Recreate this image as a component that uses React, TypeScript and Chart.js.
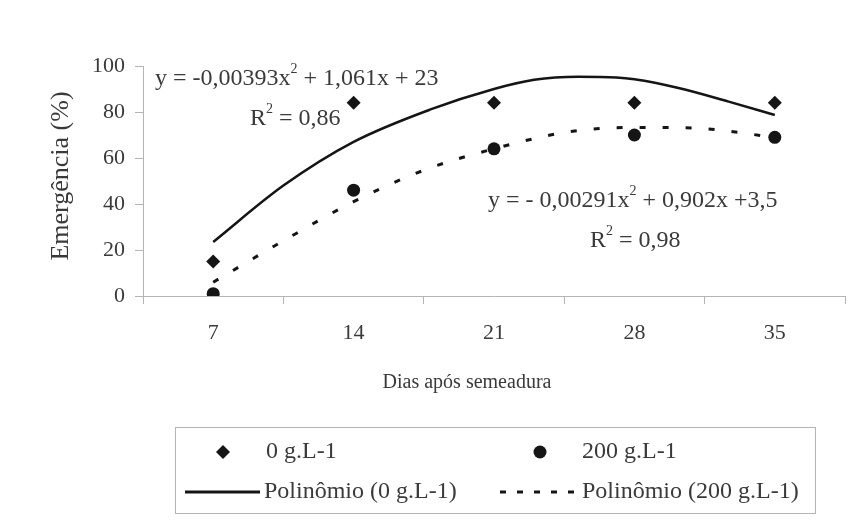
import React, { useEffect, useRef } from "react";
import { Chart, registerables } from "chart.js";

Chart.register(...registerables);

// Observed emergence per sowing day
const days = [7, 14, 21, 28, 35];
const emergence0 = [15, 84, 84, 84, 84];
const emergence200 = [1, 46, 64, 70, 69];

// Polynomial trend curves, sampled along the x axis
const trendDays0 = [7, 10.5, 14, 17.8, 21, 23, 25.2, 27.1, 28, 30.2, 32.7, 35];
const trendValues0 = [23.5, 48, 67, 81, 90, 94, 95.3, 95, 94.2, 90.4, 84.5, 78.7];
const trendDays200 = [7, 10.5, 14, 17.6, 21, 24.8, 28, 31, 35];
const trendValues200 = [6, 24, 41, 55, 64, 71.5, 73.3, 73, 69];

const yTicks = [0, 20, 40, 60, 80, 100];

const SERIF = '"Liberation Serif", "Times New Roman", serif';
const TEXT = "#3a3a3a";
const AXIS = "#b4b4b4";
const MARK = "#151515";

const isWholeWeek = (v: number) => Math.abs(v / 7 - Math.round(v / 7)) < 1e-6;

// Text with a superscript "2" after the given prefix
function drawSup(ctx: CanvasRenderingContext2D, parts: string[], x: number, y: number, size: number) {
  let cx = x;
  ctx.font = `${size}px ${SERIF}`;
  ctx.fillText(parts[0], cx, y);
  cx += ctx.measureText(parts[0]).width;
  ctx.font = `${Math.round(size * 0.6)}px ${SERIF}`;
  ctx.fillText("2", cx, y - size * 0.4);
  cx += ctx.measureText("2").width;
  ctx.font = `${size}px ${SERIF}`;
  ctx.fillText(parts[1], cx, y);
}

const annotations = {
  id: "annotations",
  afterDraw(chart: Chart) {
    const ctx = chart.ctx;
    ctx.save();
    ctx.fillStyle = TEXT;
    ctx.textBaseline = "middle";
    ctx.textAlign = "left";

    // Trend equations
    drawSup(ctx, ["y = -0,00393x", " + 1,061x + 23"], 155, 79, 24);
    drawSup(ctx, ["R", " = 0,86"], 250, 119, 24);
    drawSup(ctx, ["y = - 0,00291x", " + 0,902x +3,5"], 488, 201, 24);
    drawSup(ctx, ["R", " = 0,98"], 590, 241, 24);

    // Axis titles
    ctx.font = `20px ${SERIF}`;
    ctx.textAlign = "center";
    ctx.fillText("Dias após semeadura", 467, 383);
    ctx.save();
    ctx.translate(61, 176);
    ctx.rotate(-Math.PI / 2);
    ctx.font = `26px ${SERIF}`;
    ctx.fillText("Emergência (%)", 0, 0);
    ctx.restore();

    // Legend box
    ctx.strokeStyle = AXIS;
    ctx.lineWidth = 1;
    ctx.strokeRect(175.5, 427.5, 640, 86);

    ctx.fillStyle = MARK;
    // diamond
    ctx.beginPath();
    ctx.moveTo(223, 445);
    ctx.lineTo(230, 452);
    ctx.lineTo(223, 459);
    ctx.lineTo(216, 452);
    ctx.closePath();
    ctx.fill();
    // circle
    ctx.beginPath();
    ctx.arc(540, 452, 6.5, 0, Math.PI * 2);
    ctx.fill();

    ctx.strokeStyle = MARK;
    ctx.lineWidth = 3;
    ctx.beginPath();
    ctx.moveTo(185, 492);
    ctx.lineTo(260, 492);
    ctx.stroke();
    ctx.setLineDash([6, 11]);
    ctx.beginPath();
    ctx.moveTo(500, 492);
    ctx.lineTo(575, 492);
    ctx.stroke();
    ctx.setLineDash([]);

    ctx.font = `24px ${SERIF}`;
    ctx.textAlign = "left";
    ctx.fillStyle = TEXT;
    ctx.fillText("0 g.L-1", 266, 452);
    ctx.fillText("200 g.L-1", 582, 452);
    ctx.fillText("Polinômio (0 g.L-1)", 264, 492);
    ctx.fillText("Polinômio (200 g.L-1)", 582, 492);
    ctx.restore();
  },
};

export default function App() {
  const ref = useRef<HTMLCanvasElement | null>(null);

  useEffect(() => {
    if (!ref.current) return;
    const chart = new Chart(ref.current, {
      type: "scatter",
      data: {
        datasets: [
          {
            label: "Polinômio (0 g.L-1)",
            data: trendDays0.map((x, i) => ({ x, y: trendValues0[i] })),
            showLine: true,
            borderColor: MARK,
            borderWidth: 2.5,
            pointRadius: 0,
            cubicInterpolationMode: "monotone",
          },
          {
            label: "Polinômio (200 g.L-1)",
            data: trendDays200.map((x, i) => ({ x, y: trendValues200[i] })),
            showLine: true,
            borderColor: MARK,
            borderWidth: 3,
            borderDash: [6, 17],
            pointRadius: 0,
            cubicInterpolationMode: "monotone",
          },
          {
            label: "0 g.L-1",
            data: days.map((x, i) => ({ x, y: emergence0[i] })),
            pointStyle: "rectRot",
            pointRadius: 7,
            backgroundColor: MARK,
            borderColor: MARK,
            borderWidth: 0,
          },
          {
            label: "200 g.L-1",
            data: days.map((x, i) => ({ x, y: emergence200[i] })),
            pointStyle: "circle",
            pointRadius: 6.5,
            backgroundColor: MARK,
            borderColor: MARK,
            borderWidth: 0,
          },
        ],
      },
      options: {
        animation: false,
        responsive: false,
        layout: { padding: { left: 0, right: 15, top: 66, bottom: 129 } },
        plugins: { legend: { display: false }, tooltip: { enabled: false } },
        scales: {
          x: {
            type: "linear",
            min: 3.5,
            max: 38.5,
            afterBuildTicks: (s: any) => {
              s.ticks = [3.5, 7, 10.5, 14, 17.5, 21, 24.5, 28, 31.5, 35, 38.5].map((v) => ({ value: v }));
            },
            afterFit: (s: any) => {
              s.height = 100;
            },
            ticks: {
              autoSkip: false,
              maxRotation: 0,
              padding: 16,
              color: TEXT,
              font: { family: SERIF, size: 22 },
              callback: (v: any) => (isWholeWeek(Number(v)) ? String(v) : ""),
            },
            grid: {
              drawOnChartArea: false,
              tickLength: 8,
              tickColor: (c: any) => (c.tick && isWholeWeek(c.tick.value) ? "rgba(0,0,0,0)" : AXIS),
            },
            border: { color: AXIS },
          },
          y: {
            min: 0,
            max: 100,
            afterBuildTicks: (s: any) => {
              s.ticks = yTicks.map((v) => ({ value: v }));
            },
            afterFit: (s: any) => {
              s.width = 143;
            },
            ticks: {
              padding: 10,
              color: TEXT,
              font: { family: SERIF, size: 22 },
            },
            grid: { drawOnChartArea: false, tickLength: 8, tickColor: AXIS },
            border: { color: AXIS },
          },
        },
      },
      plugins: [annotations],
    });
    return () => chart.destroy();
  }, []);

  return (
    <div style={{ position: "absolute", left: 0, top: 0, width: 861, height: 525, background: "#fff" }}>
      <canvas ref={ref} width={861} height={525} />
    </div>
  );
}
